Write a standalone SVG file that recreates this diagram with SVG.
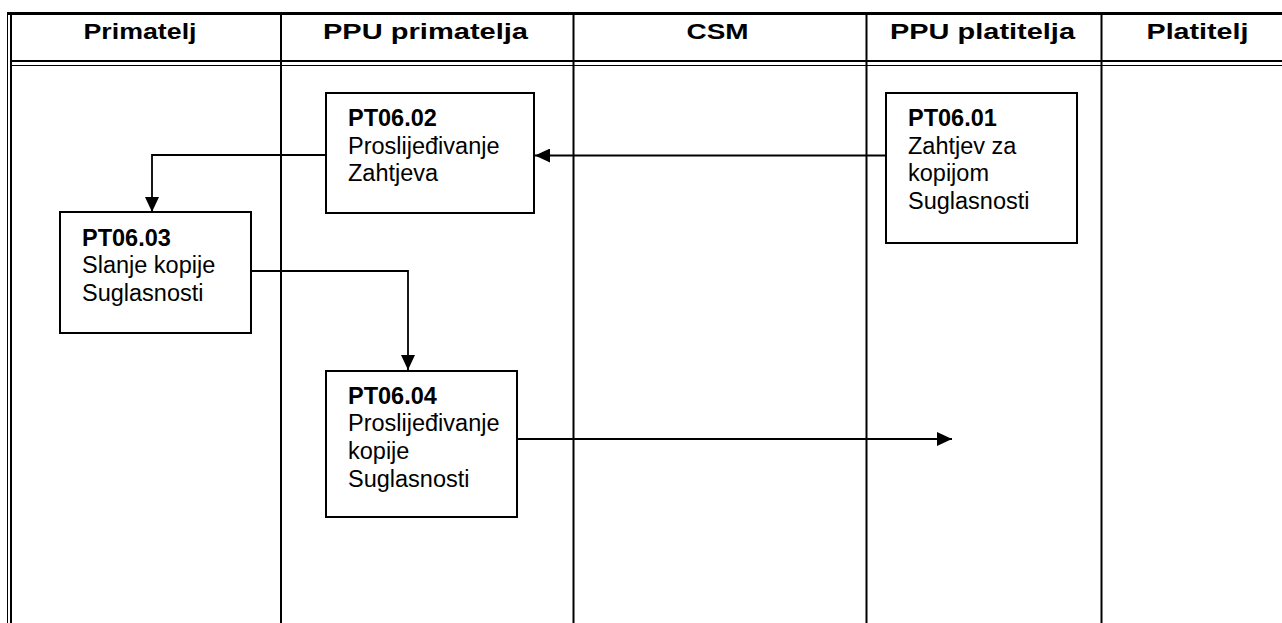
<svg xmlns="http://www.w3.org/2000/svg" width="1282" height="623" viewBox="0 0 1282 623">
<style>
.hdr{font-family:"Liberation Sans",Arial,sans-serif;font-weight:bold;font-size:22px;fill:#000;text-anchor:middle}
.box{fill:#fff;stroke:#000;stroke-width:2}
.t{font-family:"Liberation Sans",Arial,sans-serif;font-size:23.5px;fill:#000}
.b{font-weight:bold}
.ln{fill:none;stroke:#000;stroke-width:2}
.conn{fill:none;stroke:#000;stroke-width:1.8}
</style>
<defs>
<marker id="arr" viewBox="0 0 15 14" refX="15" refY="7" markerWidth="15" markerHeight="14" markerUnits="userSpaceOnUse" orient="auto">
<path d="M0,0 L15,7 L0,14 Z" fill="#000"/>
</marker>
</defs>
<rect width="1282" height="623" fill="#fff"/>
<g id="frame">
<line x1="7" y1="13.5" x2="1282" y2="13.5" stroke="#000" stroke-width="3"/>
<line x1="7.5" y1="12" x2="7.5" y2="623" stroke="#000" stroke-width="1"/>
<line x1="11" y1="12" x2="11" y2="623" class="ln"/>
<line x1="11" y1="61" x2="1282" y2="61" class="ln"/>
<line x1="11" y1="65.5" x2="1282" y2="65.5" stroke="#000" stroke-width="1.2"/>
<line x1="281" y1="15" x2="281" y2="623" class="ln"/>
<line x1="573.5" y1="15" x2="573.5" y2="623" class="ln"/>
<line x1="866.5" y1="15" x2="866.5" y2="623" class="ln"/>
<line x1="1101.5" y1="15" x2="1101.5" y2="623" class="ln"/>
</g>
<g id="headers">
<text class="hdr" x="140" y="39" textLength="113" lengthAdjust="spacingAndGlyphs">Primatelj</text>
<text class="hdr" x="425.5" y="39" textLength="205" lengthAdjust="spacingAndGlyphs">PPU primatelja</text>
<text class="hdr" x="717.5" y="39" textLength="62" lengthAdjust="spacingAndGlyphs">CSM</text>
<text class="hdr" x="982.5" y="39" textLength="185" lengthAdjust="spacingAndGlyphs">PPU platitelja</text>
<text class="hdr" x="1197.5" y="39" textLength="102" lengthAdjust="spacingAndGlyphs">Platitelj</text>
</g>
<g id="connectors">
<path class="ln" d="M886,155.5 H535" marker-end="url(#arr)"/>
<path class="conn" d="M326,155 H152 V212" marker-end="url(#arr)"/>
<path class="conn" d="M251,271 H408 V370" marker-end="url(#arr)"/>
<path class="ln" d="M517,439 H952" marker-end="url(#arr)"/>
</g>
<g id="PT06.01">
<rect class="box" x="886" y="93" width="191" height="150"/>
<text class="t" x="908" y="126"><tspan class="b">PT06.01</tspan><tspan x="908" dy="27.7">Zahtjev za</tspan><tspan x="908" dy="27.7">kopijom</tspan><tspan x="908" dy="27.7">Suglasnosti</tspan></text>
</g>
<g id="PT06.02">
<rect class="box" x="326" y="93" width="208" height="120"/>
<text class="t" x="348" y="126"><tspan class="b">PT06.02</tspan><tspan x="348" dy="27.7">Proslijeđivanje</tspan><tspan x="348" dy="27.7">Zahtjeva</tspan></text>
</g>
<g id="PT06.03">
<rect class="box" x="60" y="212" width="191" height="121"/>
<text class="t" x="82" y="245.5"><tspan class="b">PT06.03</tspan><tspan x="82" dy="27.5">Slanje kopije</tspan><tspan x="82" dy="27.5">Suglasnosti</tspan></text>
</g>
<g id="PT06.04">
<rect class="box" x="326" y="371" width="191" height="146"/>
<text class="t" x="348" y="403.5"><tspan class="b">PT06.04</tspan><tspan x="348" dy="27.7">Proslijeđivanje</tspan><tspan x="348" dy="27.7">kopije</tspan><tspan x="348" dy="27.7">Suglasnosti</tspan></text>
</g>
</svg>
